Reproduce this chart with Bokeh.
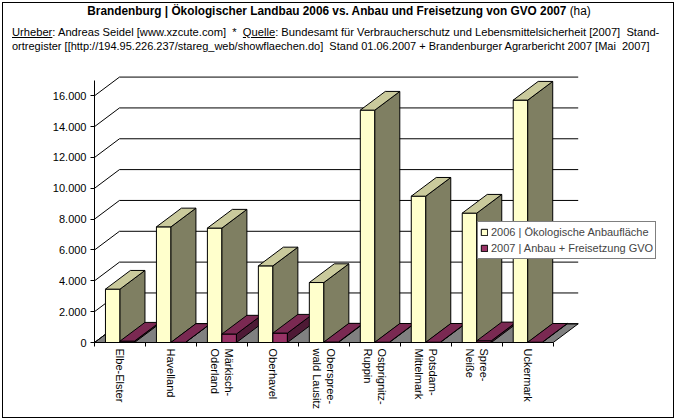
from bokeh.plotting import figure
from bokeh.layouts import column
from bokeh.models import (ColumnDataSource, Range1d, FixedTicker, Div,
                          Legend, LegendItem)
from bokeh.embed import file_html
from bokeh.resources import INLINE

# --- data (ha) ---------------------------------------------------------
districts = ["Elbe-Elster", "Havelland", "Märkisch-\nOderland", "Oberhavel",
             "Oberspree-\nwald Lausitz", "Ostprignitz-\nRuppin",
             "Potsdam-\nMittelmark", "Spree-\nNeiße", "Uckermark"]
oeko_2006 = [3460, 7500, 7420, 4970, 3890, 15070, 9490, 8390, 15720]
gvo_2007 = [90, 10, 550, 610, 30, 20, 20, 110, 20]
series_names = ["2006 | Ökologische Anbaufläche",
                "2007 | Anbau + Freisetzung GVO"]
y_ticks = [0, 2000, 4000, 6000, 8000, 10000, 12000, 14000, 16000]
y_tick_labels = ["0", "2.000", "4.000", "6.000", "8.000", "10.000",
                 "12.000", "14.000", "16.000"]
y_axis_max = 17000

title_main = "Brandenburg | Ökologischer Landbau 2006 vs. Anbau und Freisetzung von GVO 2007"
title_unit = "(ha)"
credit_line = ("<u>Urheber</u>: Andreas Seidel [www.xzcute.com]&nbsp; *&nbsp; "
               "<u>Quelle</u>: Bundesamt für Verbraucherschutz und "
               "Lebensmittelsicherheit [2007]&nbsp; Stand-")
source_line = ("ortregister [[http://194.95.226.237/stareg_web/showflaechen.do]&nbsp; "
               "Stand 01.06.2007 + Brandenburger Agrarbericht 2007 [Mai&nbsp; 2007]")

# --- 3D look -------------------------------------------------------------
BAR_W = 0.285          # bar width in category units
DX = 0.49              # depth offset, x (category units)
DY = 1213              # depth offset, y (ha)
N = len(districts)
PX_PER_CAT = 50.97
PX_PER_HA = 0.015419

YELLOW = ("#FFFFCC", "#7F7F62", "#CACA9C")   # front, side, top
PURPLE = ("#993366", "#4E1A35", "#7A2952")

FONT = "Liberation Sans"
HEAD_FONT = "'Liberation Sans', sans-serif"

HEAD_H = 62
FIG_H = 420 - HEAD_H
LEFT, RIGHT, TOP, BOTTOM = 94, 6, 4, 78

# --- header -------------------------------------------------------------
line_css = "position:absolute;white-space:nowrap;line-height:14px;"
head_html = f"""
<div style="position:relative;width:676px;height:{HEAD_H}px;font-family:{HEAD_FONT};color:black;">
  <div style="{line_css}left:339px;top:4px;font-size:12px;transform:translateX(-50%) scaleX(0.985);">
    <b>{title_main}</b> {title_unit}</div>
  <div style="{line_css}left:12px;top:25px;font-size:11px;transform-origin:0 0;transform:scaleX(1.015);">
    {credit_line}</div>
  <div style="{line_css}left:12px;top:39px;font-size:11px;">
    {source_line}</div>
</div>
"""
head = Div(text=head_html, width=676, height=HEAD_H, margin=0)

# --- chart --------------------------------------------------------------
p = figure(width=676, height=FIG_H, output_backend="svg", toolbar_location=None,
           x_range=Range1d(0, (676 - LEFT - RIGHT) / PX_PER_CAT),
           y_range=Range1d(0, (FIG_H - TOP - BOTTOM) / PX_PER_HA),
           min_border_left=LEFT, min_border_right=RIGHT,
           min_border_top=TOP, min_border_bottom=BOTTOM, margin=0)
p.outline_line_color = None
p.background_fill_color = "white"
p.border_fill_alpha = 0
p.xgrid.visible = False
p.ygrid.visible = False

# floor
p.patch([0, N, N + DX, DX], [0, 0, DY, DY], fill_color="#808080",
        line_color="black", line_width=1)

# gridlines on side and back wall
p.multi_line([[0, DX, N + DX] for v in y_ticks],
             [[v, v + DY, v + DY] for v in y_ticks],
             line_color="black", line_width=1)

# bar faces, painted left to right
xs, ys, fills = [], [], []
for i, (a, b) in enumerate(zip(oeko_2006, gvo_2007)):
    c = i + 0.5
    for x0, v, cols in ((c - BAR_W, a, YELLOW), (c, b, PURPLE)):
        x1 = x0 + BAR_W
        xs += [[x0, x1, x1, x0],
               [x1, x1 + DX, x1 + DX, x1],
               [x0, x1, x1 + DX, x0 + DX]]
        ys += [[0, 0, v, v],
               [0, DY, v + DY, v],
               [v, v, v + DY, v + DY]]
        fills += list(cols)

src = ColumnDataSource(dict(xs=xs, ys=ys, fill=fills))
bars = p.patches("xs", "ys", source=src, fill_color="fill",
                 line_color="black", line_width=1)

# axes
yax = p.yaxis[0]
yax.ticker = FixedTicker(ticks=y_ticks)
yax.major_label_overrides = {float(t): l for t, l in zip(y_ticks, y_tick_labels)}
yax.bounds = (0, y_axis_max)
yax.major_tick_out = 4
yax.major_tick_in = 0
yax.minor_tick_line_color = None
yax.major_label_standoff = 4
yax.major_label_text_font = FONT
yax.major_label_text_font_size = "11px"
yax.major_label_text_color = "black"
yax.axis_line_color = "black"
yax.major_tick_line_color = "black"

xax = p.xaxis[0]
centers = [i + 0.5 for i in range(N)]
xax.ticker = FixedTicker(ticks=centers, minor_ticks=list(range(N + 1)))
xax.major_label_overrides = {c: d for c, d in zip(centers, districts)}
xax.bounds = (0, N)
xax.major_tick_in = 0
xax.major_tick_out = 0
xax.major_tick_line_color = None
xax.minor_tick_in = 0
xax.minor_tick_out = 4
xax.minor_tick_line_color = "black"
xax.major_label_orientation = "vertical"
xax.major_label_standoff = 2
xax.major_label_text_font = FONT
xax.major_label_text_font_size = "11px"
xax.major_label_text_color = "black"
xax.axis_line_color = "black"

# legend (frame-relative position, origin bottom-left of the frame)
legend = Legend(items=[LegendItem(label=series_names[0], renderers=[bars], index=0),
                       LegendItem(label=series_names[1], renderers=[bars], index=3)],
                location=(383, 83), margin=0, padding=2, spacing=0,
                label_height=16, glyph_width=8, glyph_height=8,
                label_standoff=3, label_text_font=FONT,
                label_text_font_size="11px", border_line_color="black",
                border_line_width=1, background_fill_color="white",
                background_fill_alpha=1)
p.add_layout(legend, "center")

# thin frame around the whole page
page = column(head, p, spacing=0, margin=0)
page.styles = {"background": "white",
               "box-shadow": "inset 0 0 0 2px white, inset 0 0 0 3px black"}

open("out.html", "w").write(file_html(page, INLINE))
